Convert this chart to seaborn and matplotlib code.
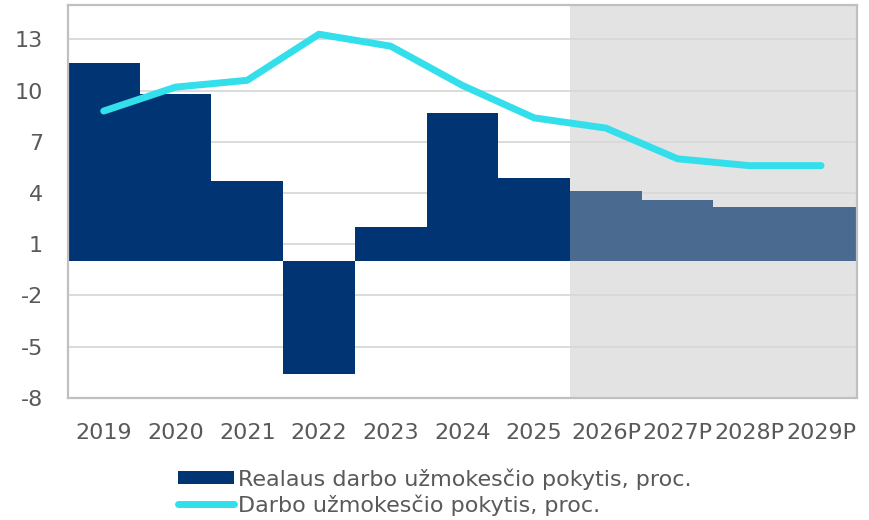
import matplotlib
matplotlib.use("Agg")
import matplotlib.pyplot as plt
import seaborn as sns
import numpy as np
from matplotlib.patches import Patch
from matplotlib.lines import Line2D

# Duomenys nuskaityti nuo paveikslo
metai = ["2019", "2020", "2021", "2022", "2023", "2024", "2025",
         "2026P", "2027P", "2028P", "2029P"]
realus_pokytis = [11.6, 9.8, 4.7, -6.6, 2.0, 8.7, 4.9, 4.1, 3.6, 3.2, 3.2]
nominalus_pokytis = [8.8, 10.2, 10.6, 13.3, 12.6, 10.3, 8.4, 7.8, 6.0, 5.6, 5.6]
prognozes_pradzia = "2026P"
y_ticks = [-8, -5, -2, 1, 4, 7, 10, 13]

tamsi = "#003473"
sviesi = "#4a6a90"
zydra = "#33dfeb"
pilka_txt = "#595959"

sns.set_style("white")
plt.rcParams['font.family'] = ['DejaVu Sans']
plt.rcParams['axes.unicode_minus'] = False

fig, ax = plt.subplots(figsize=(8.7, 5.2), dpi=100)
fig.subplots_adjust(left=0.078, right=0.985, top=0.990, bottom=0.235)

n = len(metai)
k = metai.index(prognozes_pradzia)
spalvos = [tamsi if i < k else sviesi for i in range(n)]

# prognozės sritis
ax.axvspan(k - 0.5, n - 0.5, color="#e3e3e3", zorder=0, lw=0)

sns.barplot(x=metai, y=realus_pokytis, hue=metai, palette=spalvos,
            width=1.0, legend=False, ax=ax, zorder=2, saturation=1,
            linewidth=0)
sns.lineplot(x=np.arange(n), y=nominalus_pokytis, color=zydra, lw=5,
             ax=ax, zorder=3, solid_capstyle="round")

ax.set_xlim(-0.5, n - 0.5)
ax.set_ylim(-8, 15)
ax.set_yticks(y_ticks)
ax.yaxis.grid(True, color="#d9d9d9", lw=1.3, zorder=1)
ax.set_axisbelow(True)
for s in ax.spines.values():
    s.set_color("#c0c0c0")
    s.set_linewidth(1.6)
ax.tick_params(axis="both", length=0, labelsize=16, colors=pilka_txt)
ax.tick_params(axis="y", pad=18)
ax.tick_params(axis="x", pad=18)
ax.set_xlabel("")
ax.set_ylabel("")

rankenos = [Patch(facecolor=tamsi, edgecolor="none"),
            Line2D([0], [0], color=zydra, lw=5, solid_capstyle="round")]
pavad = ["Realaus darbo užmokesčio pokytis, proc.",
         "Darbo užmokesčio pokytis, proc."]
leg = fig.legend(rankenos, pavad, loc="lower center", bbox_to_anchor=(0.5, -0.03),
                 frameon=False, fontsize=16, handlelength=2.5, handleheight=0.55,
                 handletextpad=0.2, labelspacing=0.2, labelcolor=pilka_txt)
leg._legend_box.align = "left"

fig.savefig("out.png", dpi=100)
